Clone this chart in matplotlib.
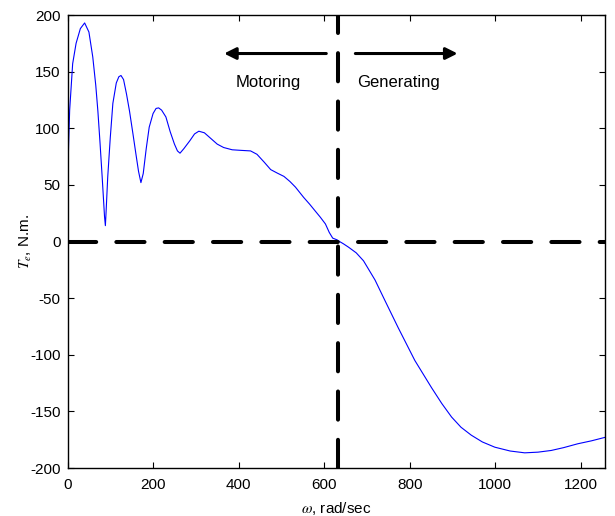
import numpy as np
import matplotlib
matplotlib.use("Agg")
import matplotlib.pyplot as plt

plt.rcParams['font.family'] = ['Liberation Sans', 'DejaVu Sans']
plt.rcParams['mathtext.fontset'] = 'stix'
plt.rcParams['axes.unicode_minus'] = False

# speed (rad/s) and electromagnetic torque (N.m.)
w = [0, 2.5, 5, 12, 20, 30, 40, 50, 59, 66, 71, 76, 81, 84, 86.5, 88.5,
     90, 94, 100, 106, 114, 120, 125, 131, 138, 145, 153, 160, 166, 171.6,
     177, 184, 191, 200, 207, 213, 220, 230, 240, 250, 257, 263, 272, 286,
     297, 307, 320, 335, 350, 365, 385, 405, 428, 443, 460, 475, 490, 506,
     520, 533, 552, 566, 579, 591, 603, 612, 620, 630, 636, 645, 657, 675,
     692, 719, 742, 773, 812, 851, 875, 898, 920, 944, 970, 999, 1035, 1069,
     1100, 1131, 1160, 1193, 1225, 1256]
Te = [45, 85, 116, 157, 175, 188, 193, 185, 163, 138, 115, 87, 57, 38, 22, 14,
      25, 57, 92, 122, 140, 145.5, 146.6, 143, 130, 115, 95, 77, 62, 52,
      60, 82, 101, 113, 117.5, 118, 116, 110, 97, 86, 80, 78, 82, 89,
      95, 97.4, 96, 91, 86, 83, 81, 80.5, 80, 77, 70, 63.5, 60.5, 57.5,
      53, 48, 39, 33, 27, 21.5, 15.5, 8, 3, 1.5, 0, -2, -5, -10,
      -17, -34, -52, -76, -105, -129, -143, -155, -164, -171, -177, -181.6, -185, -186.6,
      -186, -184.5, -182, -178.6, -176, -173]

w_sync = 633
xmax = 400 * np.pi

fig = plt.figure(figsize=(6.15, 5.16), dpi=100)
ax = fig.add_axes([0.1098, 0.093, 0.8739, 0.8779])

ax.plot(w, Te, color='#0000ff', lw=0.8)

# zero torque and synchronous speed lines
dash = dict(color='black', lw=2.9, dashes=(7, 5), dash_capstyle='round')
ax.axhline(0, **dash)
ax.axvline(w_sync, **dash)

arrow = dict(arrowstyle='-|>,head_length=0.7,head_width=0.35', color='black',
             lw=2.2, shrinkA=0, shrinkB=0)
ax.annotate('', xy=(366, 166), xytext=(605, 166), arrowprops=arrow)
ax.annotate('', xy=(912, 166), xytext=(673, 166), arrowprops=arrow)
ax.text(469, 140, 'Motoring', ha='center', va='center', fontsize=12)
ax.text(773, 140, 'Generating', ha='center', va='center', fontsize=12)

ax.set_xlim(0, xmax)
ax.set_ylim(-200, 200)
ax.set_xticks([0, 200, 400, 600, 800, 1000, 1200])
ax.set_yticks([-200, -150, -100, -50, 0, 50, 100, 150, 200])
ax.tick_params(direction='in', top=True, right=True, length=4, width=0.8,
               labelsize=11, pad=5)
ax.tick_params(axis='x', pad=7)
for s in ax.spines.values():
    s.set_linewidth(1.0)

ax.set_xlabel(r'$\omega$, rad/sec', fontsize=11, labelpad=6)
ax.set_ylabel(r'$T_e$, N.m.', fontsize=11, labelpad=-3)

fig.savefig('out.png', dpi=100)
